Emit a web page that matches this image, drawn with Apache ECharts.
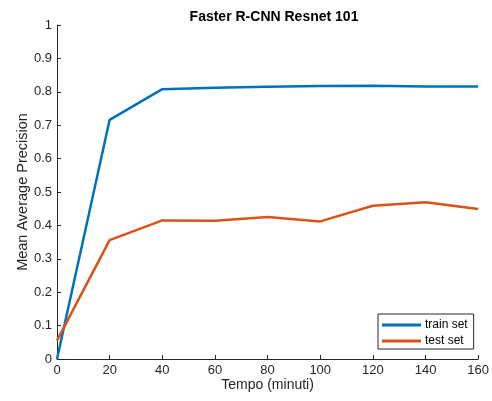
<!DOCTYPE html>
<html>
<head>
<meta charset="utf-8">
<script src="https://cdn.jsdelivr.net/npm/echarts@6/dist/echarts.min.js"></script>
<style>html,body{margin:0;padding:0;background:#fff}#c{width:492px;height:401px}</style>
</head>
<body>
<div id="c"></div>
<script>
var minutes = [0, 20, 40, 60, 80, 100, 120, 140, 160];
var trainSet = [0.0, 0.716, 0.808, 0.812, 0.815, 0.817, 0.818, 0.816, 0.816];
var testSet = [0.055, 0.356, 0.415, 0.414, 0.425, 0.412, 0.459, 0.469, 0.449];
var seriesNames = ['train set', 'test set'];
var titleText = 'Faster R-CNN Resnet 101';
var xName = 'Tempo (minuti)';
var yName = 'Mean Average Precision';

function pairs(xs, ys) { return xs.map(function (x, i) { return [x, ys[i]]; }); }

var font = 'Arial, "Liberation Sans", Helvetica, sans-serif';
var axisColor = '#262626';
var chart = echarts.init(document.getElementById('c'), null, {renderer: 'canvas'});
chart.setOption({
  animation: false,
  backgroundColor: '#fff',
  title: {
    text: titleText, left: 269, top: 5, textAlign: 'center',
    textStyle: {fontFamily: font, fontSize: 14, fontWeight: 'bold', color: '#000'}
  },
  grid: {left: 57, right: 11, top: 25, bottom: 42, containLabel: false},
  legend: {
    orient: 'vertical', left: 378, top: 314,
    data: seriesNames,
    icon: 'rect', itemWidth: 39, itemHeight: 3, itemGap: 4,
    padding: [5, 6, 2, 4],
    borderColor: '#262626', borderWidth: 1, backgroundColor: '#fff',
    textStyle: {fontFamily: font, fontSize: 12, color: '#000', padding: [0, 0, 0, -1]}
  },
  xAxis: {
    type: 'value', min: 0, max: 160, interval: 20,
    name: xName, nameLocation: 'middle', nameGap: 19, nameMoveOverlap: false,
    nameTextStyle: {fontFamily: font, fontSize: 14, color: axisColor},
    axisLine: {show: true, onZero: false, lineStyle: {color: axisColor, width: 1}},
    axisTick: {show: true, inside: true, length: 4, lineStyle: {color: axisColor}},
    axisLabel: {fontFamily: font, fontSize: 13, color: axisColor, margin: 5},
    splitLine: {show: false}
  },
  yAxis: {
    type: 'value', min: 0, max: 1, interval: 0.1,
    name: yName, nameLocation: 'middle', nameGap: 27, nameRotate: 90, nameMoveOverlap: false,
    nameTextStyle: {fontFamily: font, fontSize: 14.5, color: axisColor},
    axisLine: {show: true, onZero: false, lineStyle: {color: axisColor, width: 1}},
    axisTick: {show: true, inside: true, length: 4, lineStyle: {color: axisColor}},
    axisLabel: {fontFamily: font, fontSize: 13, color: axisColor, margin: 5},
    splitLine: {show: false}
  },
  series: [
    {name: seriesNames[0], type: 'line', data: pairs(minutes, trainSet), showSymbol: false,
     lineStyle: {color: '#0072BD', width: 2.5}, itemStyle: {color: '#0072BD'}},
    {name: seriesNames[1], type: 'line', data: pairs(minutes, testSet), showSymbol: false,
     lineStyle: {color: '#D95319', width: 2.5}, itemStyle: {color: '#D95319'}}
  ]
});
</script>
</body>
</html>
